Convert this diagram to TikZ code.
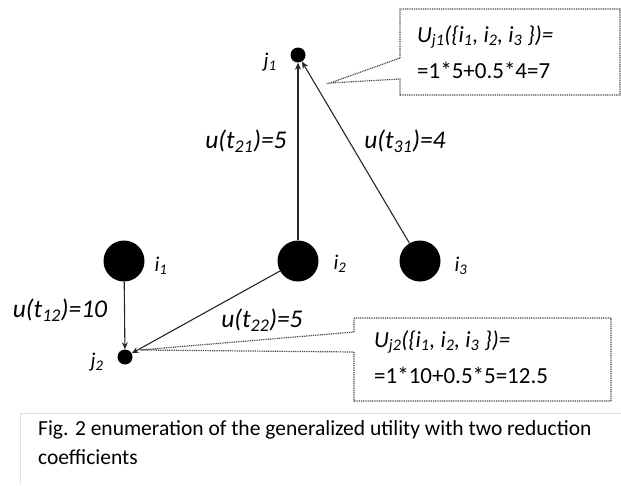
\documentclass[tikz,border=0pt]{standalone}
\usepackage{fontspec}
\setmainfont{Carlito}
\usetikzlibrary{arrows.meta}
\tikzset{
  big/.style={circle,fill=black,inner sep=0pt,minimum size=41pt},
  small/.style={circle,fill=black,inner sep=0pt,minimum size=15pt},
  lab/.style={font=\fontsize{21}{21}\selectfont\itshape,inner sep=1pt},
  elab/.style={font=\fontsize{25.5}{24}\selectfont\itshape,inner sep=1pt},
  ctext/.style={font=\fontsize{23}{36}\selectfont,align=left,inner sep=0pt,anchor=north west},
  conn/.style={line width=1.1pt,draw=black!85,-{Stealth[length=7pt,width=6pt]}},
  callout/.style={draw=black!70,dash pattern=on 1pt off 0.8pt,line width=1.2pt},
  captext/.style={font=\fontsize{21.5}{29}\selectfont,align=left,inner sep=0pt,anchor=north west}
}
\begin{document}
\begin{tikzpicture}[x=1pt,y=-1pt]
\useasboundingbox (0,0) rectangle (621,485);
% nodes
\node[small] (j1) at (298,55) {};
\node[small] (j2) at (125,357) {};
\node[big] (i1) at (124,261) {};
\node[big] (i2) at (298,261) {};
\node[big] (i3) at (420,261) {};
\node[lab] at (270,62) {j\textsubscript{1}};
\node[lab] at (97,362) {j\textsubscript{2}};
\node[lab] at (161,266) {i\textsubscript{1}};
\node[lab] at (340,264) {i\textsubscript{2}};
\node[lab] at (461,266) {i\textsubscript{3}};
% connectors
\draw[conn] (i2) -- (j1);
\draw[conn] (i3) -- (j1);
\draw[conn] (i1) -- (j2);
\draw[conn] (i2) -- (j2);
% edge labels
\node[elab] at (246,141) {u(t\textsubscript{21})=5};
\node[elab] at (405,141) {u(t\textsubscript{31})=4};
\node[elab] at (60,310) {u(t\textsubscript{12})=10};
\node[elab] at (262,320) {u(t\textsubscript{22})=5};
% callout 1
\coordinate (tip1) at (330,83);
\draw[callout] (400,58) -- (400,9) -- (620,9) -- (620,95) -- (400,95) -- (400,79) -- (tip1) -- cycle;
\node[ctext] (c1) at (417,25) {\itshape U\textsubscript{j1}(\{i\textsubscript{1}, i\textsubscript{2}, i\textsubscript{3} \})=\\=1*5+0.5*4=7};
% callout 2
\coordinate (tip2) at (140,350);
\draw[callout] (354,332) -- (354,318) -- (611,318) -- (611,401) -- (354,401) -- (354,352) -- (tip2) -- cycle;
\node[ctext] (c2) at (374,330) {\itshape U\textsubscript{j2}(\{i\textsubscript{1}, i\textsubscript{2}, i\textsubscript{3} \})=\\=1*10+0.5*5=12.5};
% caption
\draw[black!12,line width=1pt] (20,485) -- (20,413) -- (621,413);
\node[captext] (cap) at (38,420) {Fig. 2 enumeration of the generalized utility with two reduction\\coefficients};
\end{tikzpicture}
\end{document}
